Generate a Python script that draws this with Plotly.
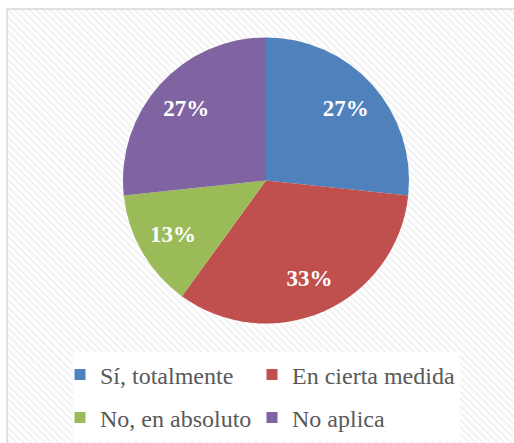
import plotly.graph_objects as go

categories = ["Sí, totalmente", "En cierta medida", "No, en absoluto", "No aplica"]
counts = [8, 10, 4, 8]
colors = ["#4F81BD", "#C0504D", "#9BBB59", "#8064A2"]

W, H = 514, 443
SERIF = "Liberation Serif"
PIE_DOMAIN = dict(x=[123 / W, 409 / W], y=[1 - 324 / H, 1 - 37 / H])

fig = go.Figure()

# hatched chart-area background
fig.add_trace(go.Bar(
    x=[0.5], y=[1], width=[1],
    marker=dict(color="white", line=dict(width=0),
                pattern=dict(shape="\\", fgcolor="#e3e3e3", bgcolor="white",
                             size=5, solidity=0.4)),
    hoverinfo="skip", showlegend=False,
))

# the pie itself
fig.add_trace(go.Pie(
    labels=categories, values=counts,
    marker=dict(colors=colors, line=dict(width=0)),
    sort=False, direction="clockwise", rotation=0,
    textinfo="none", domain=PIE_DOMAIN, showlegend=False,
))

# transparent ring on top, only to place the percentage labels further out
fig.add_trace(go.Pie(
    labels=categories, values=counts, hole=0.5,
    marker=dict(colors=["rgba(0,0,0,0)"] * len(categories), line=dict(width=0)),
    sort=False, direction="clockwise", rotation=0,
    texttemplate="<b>%{percent:.0%}</b>", textposition="inside",
    insidetextorientation="horizontal",
    insidetextfont=dict(family=SERIF, size=23, color="white"),
    domain=PIE_DOMAIN, showlegend=False, hoverinfo="skip",
))

# legend entries in a 2x2 grid, one small legend per entry
legend_names = ["legend", "legend2", "legend3", "legend4"]
for name, col, leg in zip(categories, colors, legend_names):
    fig.add_trace(go.Scatter(
        x=[None], y=[None], mode="markers", name=name,
        marker=dict(symbol="square", size=11, color=col),
        legend=leg,
    ))

leg_common = dict(
    orientation="h", xanchor="left", yanchor="middle",
    bgcolor="rgba(0,0,0,0)",
    font=dict(family=SERIF, size=24, color="#595959"),
    itemsizing="trace", itemclick=False, itemdoubleclick=False,
)
col_x = [60 / W, 252 / W]
row_y = [1 - 375 / H, 1 - 418 / H]

fig.update_layout(
    width=W, height=H,
    margin=dict(l=0, r=0, t=0, b=0, autoexpand=False),
    paper_bgcolor="white",
    plot_bgcolor="rgba(0,0,0,0)",
    font=dict(family=SERIF),
    bargap=0,
    xaxis=dict(domain=[7 / W, 1], range=[0, 1], visible=False, fixedrange=True),
    yaxis=dict(domain=[0, 1 - 9 / H], range=[0, 1], visible=False, fixedrange=True),
    legend=dict(leg_common, x=col_x[0], y=row_y[0]),
    legend2=dict(leg_common, x=col_x[1], y=row_y[0]),
    legend3=dict(leg_common, x=col_x[0], y=row_y[1]),
    legend4=dict(leg_common, x=col_x[1], y=row_y[1]),
    shapes=[
        dict(type="rect", xref="paper", yref="paper",
             x0=73 / W, x1=460 / W, y0=1 - 441 / H, y1=1 - 352 / H,
             line=dict(width=0), fillcolor="white", layer="above"),
        dict(type="rect", xref="paper", yref="paper",
             x0=7 / W, x1=1.1, y0=-0.1, y1=1 - 9 / H,
             line=dict(color="#d9d9d9", width=1.5), fillcolor="rgba(0,0,0,0)",
             layer="above"),
    ],
)

fig.write_html("out.html", config={"displayModeBar": False},
               post_script="document.body.style.margin='0';")
